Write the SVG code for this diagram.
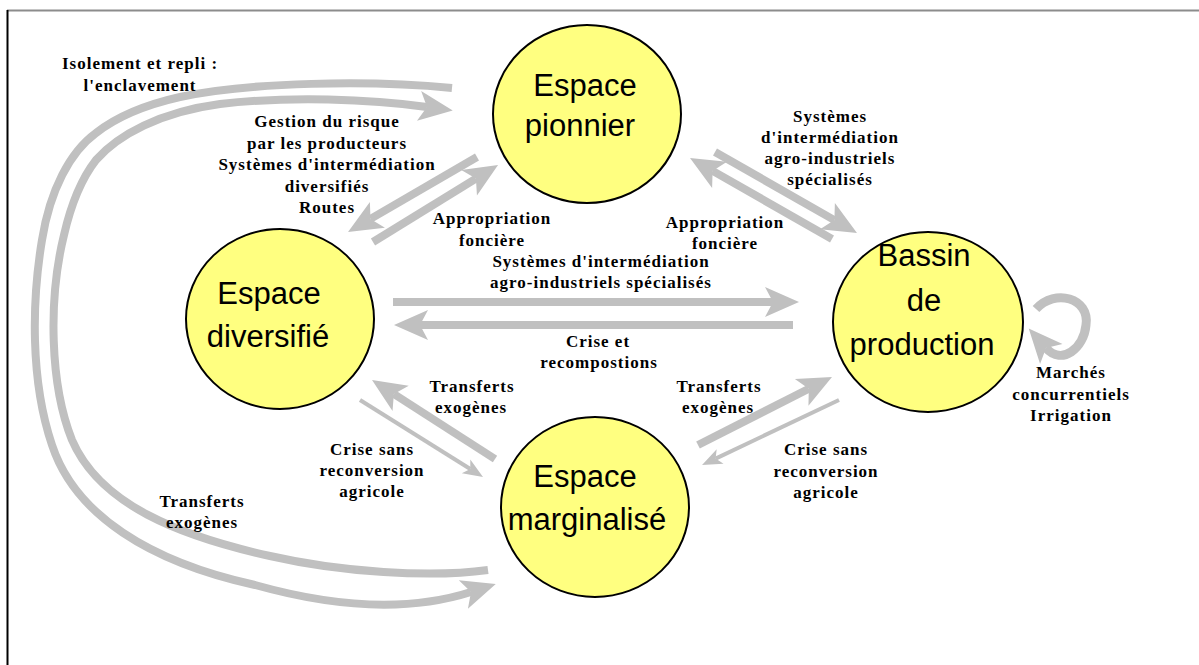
<svg xmlns="http://www.w3.org/2000/svg" width="1199" height="665" viewBox="0 0 1199 665">
<style>
.n{fill:#ffff80;stroke:#000;stroke-width:2}
.nt{font-family:"Liberation Sans",Arial,sans-serif;font-size:31px;fill:#000;text-anchor:middle}
.lb{font-family:"Liberation Serif","Times New Roman",serif;font-weight:bold;font-size:17px;letter-spacing:1px;fill:#000;text-anchor:middle}
.th{fill:none;stroke:#c0c0c0;stroke-width:8;marker-end:url(#hd)}
.tn{fill:none;stroke:#c0c0c0;stroke-width:4;marker-end:url(#hs)}
.cv{fill:none;stroke:#c0c0c0;stroke-width:8}
</style>
<defs>
<marker id="hd" markerUnits="userSpaceOnUse" orient="auto" refX="0" refY="0" markerWidth="1" markerHeight="1" style="overflow:visible">
<path d="M26,0 L-8,-15 L0,0 L-8,15 Z" fill="#c0c0c0"/>
</marker>
<marker id="hs" markerUnits="userSpaceOnUse" orient="auto" refX="0" refY="0" markerWidth="1" markerHeight="1" style="overflow:visible">
<path d="M15,0 L-5,-8 L0,0 L-5,8 Z" fill="#c0c0c0"/>
</marker>
</defs>
<rect width="1199" height="665" fill="#fff"/>
<g id="frame">
<line x1="7" y1="10.5" x2="1199" y2="10.5" stroke="#8c8c8c" stroke-width="2"/>
<line x1="7.5" y1="10" x2="7.5" y2="665" stroke="#000" stroke-width="2"/>
</g>
<g id="connectors">
<path class="cv" d="M452,88 C370,80 250,82 180,97 C140,106 115,118 96,133 C70,152 50,190 42,240 C32,300 30,380 52,445 C75,515 150,562 255,585 C330,606 405,613 471,592" marker-end="url(#hd)"/>
<path class="cv" d="M488,570 C430,578 340,572 270,556 C180,536 100,505 72,440 C50,385 48,300 64,235 C72,200 82,178 96,160 C118,135 160,112 220,104 C290,96 370,99 427,107" marker-end="url(#hd)"/>
<path class="th" d="M393,302 L773,302"/>
<path class="th" d="M793,325 L420,325"/>
<path class="th" d="M477,157 L370.5,218.9"/>
<path class="th" d="M373,242 L475.9,178.6"/>
<path class="th" d="M715,152 L834.4,220.1"/>
<path class="th" d="M832,239 L712.6,170.9"/>
<path class="th" d="M495,459 L393.9,394"/>
<path class="tn" d="M360,400 L470.3,469"/>
<path class="th" d="M698,445 L808.8,388.8"/>
<path class="tn" d="M839,400 L715.6,458.6"/>
<path class="th" style="stroke-width:9" d="M1036,309 C1055,288 1090,298 1086,325 C1084,348 1062,366 1046,348"/>
</g>
<g id="node-pionnier">
<ellipse class="n" cx="587" cy="114" rx="94" ry="89"/>
<text class="nt" x="585" y="96">Espace</text>
<text class="nt" x="580" y="136">pionnier</text>
</g>
<g id="node-diversifie">
<ellipse class="n" cx="280" cy="319" rx="94" ry="90"/>
<text class="nt" x="269" y="304">Espace</text>
<text class="nt" x="268" y="347">diversifié</text>
</g>
<g id="node-marginalise">
<ellipse class="n" cx="595" cy="507" rx="94" ry="90"/>
<text class="nt" x="585" y="487">Espace</text>
<text class="nt" x="587" y="530">marginalisé</text>
</g>
<g id="node-bassin">
<ellipse class="n" cx="928" cy="322" rx="95" ry="90"/>
<text class="nt" x="924" y="266">Bassin</text>
<text class="nt" x="924" y="311">de</text>
<text class="nt" x="922" y="355">production</text>
</g>
<g id="labels">
<text class="lb" x="140" y="69">Isolement et repli :</text>
<text class="lb" x="140" y="91">l'enclavement</text>
<text class="lb" x="327" y="127">Gestion du risque</text>
<text class="lb" x="327" y="148.5">par les producteurs</text>
<text class="lb" x="327" y="170">Systèmes d'intermédiation</text>
<text class="lb" x="327" y="191.5">diversifiés</text>
<text class="lb" x="327" y="213">Routes</text>
<text class="lb" x="492" y="224">Appropriation</text>
<text class="lb" x="492" y="246">foncière</text>
<text class="lb" x="830" y="122">Systèmes</text>
<text class="lb" x="830" y="143">d'intermédiation</text>
<text class="lb" x="830" y="164">agro-industriels</text>
<text class="lb" x="830" y="185">spécialisés</text>
<text class="lb" x="725" y="228">Appropriation</text>
<text class="lb" x="725" y="249">foncière</text>
<text class="lb" x="601" y="267">Systèmes d'intermédiation</text>
<text class="lb" x="601" y="288">agro-industriels spécialisés</text>
<text class="lb" x="598" y="347">Crise et</text>
<text class="lb" x="599" y="368">recompostions</text>
<text class="lb" x="472" y="392">Transferts</text>
<text class="lb" x="471" y="413">exogènes</text>
<text class="lb" x="719" y="392">Transferts</text>
<text class="lb" x="718" y="413">exogènes</text>
<text class="lb" x="372" y="455">Crise sans</text>
<text class="lb" x="372" y="476">reconversion</text>
<text class="lb" x="372" y="497">agricole</text>
<text class="lb" x="826" y="455">Crise sans</text>
<text class="lb" x="826" y="477">reconversion</text>
<text class="lb" x="826" y="498">agricole</text>
<text class="lb" x="202" y="507">Transferts</text>
<text class="lb" x="202" y="528">exogènes</text>
<text class="lb" x="1071" y="378">Marchés</text>
<text class="lb" x="1071" y="400">concurrentiels</text>
<text class="lb" x="1071" y="421">Irrigation</text>
</g>
</svg>
